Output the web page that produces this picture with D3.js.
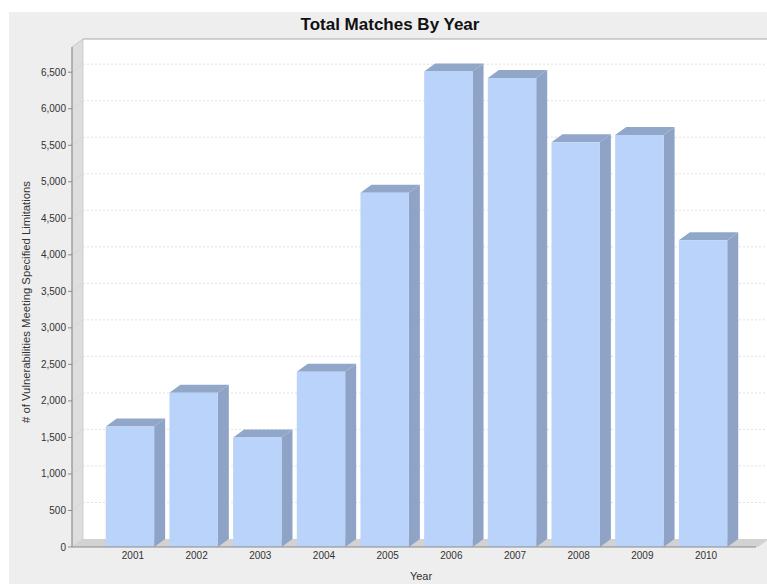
<!DOCTYPE html>
<html><head><meta charset="utf-8">
<script src="https://cdn.jsdelivr.net/npm/d3@7/dist/d3.min.js"></script>
<style>body{margin:0;background:#fff}svg{display:block;font-family:"Liberation Sans",Arial,sans-serif}</style>
</head><body><svg id="c" width="767" height="584"></svg>
<script>
const years = ["2001","2002","2003","2004","2005","2006","2007","2008","2009","2010"];
const matches = [1650, 2110, 1500, 2400, 4850, 6510, 6420, 5540, 5640, 4200];
const yTicks = [0,500,1000,1500,2000,2500,3000,3500,4000,4500,5000,5500,6000,6500];
const title = "Total Matches By Year";
const xTitle = "Year";
const yTitle = "# of Vulnerabilities Meeting Specified Limitations";

(function(){
const svg = d3.select("#c");
const W = 767, H = 584;
const pLeft = 72, pBottom = 547, pTop = 47, pRight = 761;
const dx = 11, dy = 8;

svg.append("rect").attr("x",9).attr("y",12).attr("width",W-9).attr("height",H-12).attr("fill","#eeeeee");

const x = d3.scaleBand().domain(years).range([pLeft, pRight]).paddingInner(0.24).paddingOuter(0.53);
const y = d3.scaleLinear().domain([0, 6845]).range([pBottom, pTop]);

// back wall
svg.append("rect").attr("x",pLeft+dx).attr("y",pTop-dy).attr("width",W-(pLeft+dx)+2).attr("height",pBottom-pTop)
  .attr("fill","#ffffff");
svg.append("line").attr("x1",pLeft+dx).attr("x2",W).attr("y1",pTop-dy).attr("y2",pTop-dy).attr("stroke","#a8a8a8");
// left wall
svg.append("polygon").attr("points",[[pLeft,pTop],[pLeft+dx,pTop-dy],[pLeft+dx,pBottom-dy],[pLeft,pBottom]].join(" "))
  .attr("fill","#dedede").attr("stroke","#b8b8b8").attr("stroke-width",0.6);
// floor
svg.append("polygon").attr("points",[[pLeft,pBottom],[pLeft+dx,pBottom-dy],[W+2,pBottom-dy],[W+2-dx,pBottom]].join(" "))
  .attr("fill","#d2d2d2");

// gridlines
const g = svg.append("g");
yTicks.filter(t=>t>0).forEach(t=>{
  g.append("line").attr("x1",pLeft+dx).attr("x2",W).attr("y1",y(t)-dy).attr("y2",y(t)-dy)
    .attr("stroke","#d6d6d6").attr("stroke-width",0.7).attr("stroke-dasharray","2,2");
  g.append("line").attr("x1",pLeft).attr("x2",pLeft+dx).attr("y1",y(t)).attr("y2",y(t)-dy)
    .attr("stroke","#d2d2d2").attr("stroke-width",0.6);
});

// bars
const bars = svg.append("g").selectAll("g").data(years.map((yr,i)=>({yr, v:matches[i]}))).join("g");
bars.each(function(d){
  const s = d3.select(this);
  const x0 = x(d.yr), w = x.bandwidth(), yt = y(d.v);
  s.append("polygon").attr("points",[[x0+w,yt],[x0+w+dx,yt-dy],[x0+w+dx,pBottom-dy],[x0+w,pBottom]].join(" "))
    .attr("fill","#8ea3c5");
  s.append("polygon").attr("points",[[x0,yt],[x0+dx,yt-dy],[x0+w+dx,yt-dy],[x0+w,yt]].join(" "))
    .attr("fill","#91a7c9");
  s.append("rect").attr("x",x0).attr("y",yt).attr("width",w).attr("height",pBottom-yt)
    .attr("fill","#b9d3fa");
});

// axes
svg.append("line").attr("x1",pLeft).attr("x2",pLeft).attr("y1",pTop).attr("y2",pBottom).attr("stroke","#8a8a8a");
svg.append("line").attr("x1",pLeft).attr("x2",W-dx).attr("y1",pBottom).attr("y2",pBottom).attr("stroke","#8a8a8a");
const fmt = d3.format(",");
const ya = svg.append("g");
yTicks.forEach(t=>{
  ya.append("line").attr("x1",pLeft-4).attr("x2",pLeft).attr("y1",y(t)).attr("y2",y(t)).attr("stroke","#8a8a8a");
  ya.append("text").attr("x",pLeft-6).attr("y",y(t)+3.5).attr("text-anchor","end")
    .attr("font-size",10).attr("fill","#333").text(fmt(t));
});
years.forEach(yr=>{
  svg.append("text").attr("x",x(yr)+x.bandwidth()/2+3).attr("y",pBottom+12).attr("text-anchor","middle")
    .attr("font-size",10).attr("fill","#333").text(yr);
});

svg.append("text").attr("x",390).attr("y",30).attr("text-anchor","middle").attr("font-size",17)
  .attr("font-weight","bold").attr("fill","#111").text(title);
svg.append("text").attr("x",421).attr("y",580).attr("text-anchor","middle").attr("font-size",11)
  .attr("fill","#333").text(xTitle);
svg.append("text").attr("transform","translate(30,302) rotate(-90)").attr("text-anchor","middle")
  .attr("font-size",11.3).attr("fill","#333").text(yTitle);
})();
</script></body></html>
